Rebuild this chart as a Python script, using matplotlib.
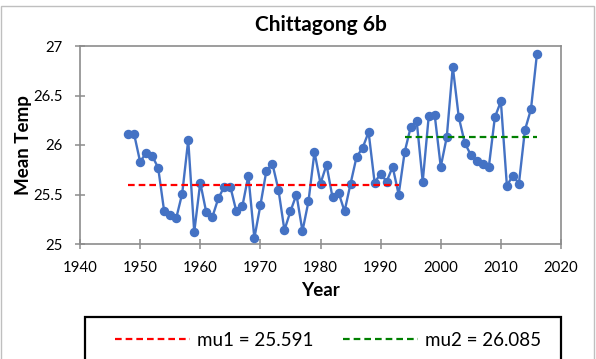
import numpy as np
import matplotlib
matplotlib.use('Agg')
import matplotlib.pyplot as plt
from matplotlib.patches import Rectangle
from matplotlib.lines import Line2D

plt.rcParams['font.family'] = ['Lato', 'DejaVu Sans']

years = list(range(1948, 2017))
temps = [26.11, 26.11, 25.83, 25.92, 25.89, 25.77, 25.33, 25.29, 25.26, 25.51,
         26.05, 25.12, 25.62, 25.32, 25.27, 25.46, 25.58, 25.58, 25.33, 25.38,
         25.69, 25.06, 25.39, 25.74, 25.81, 25.55, 25.14, 25.33, 25.50, 25.13,
         25.43, 25.93, 25.61, 25.80, 25.47, 25.52, 25.33, 25.61, 25.88, 25.97,
         26.13, 25.62, 25.71, 25.63, 25.78, 25.50, 25.93, 26.18, 26.24, 25.63,
         26.29, 26.30, 25.78, 26.08, 26.79, 26.28, 26.02, 25.90, 25.84, 25.81,
         25.78, 26.28, 26.44, 25.59, 25.69, 25.61, 26.15, 26.36, 26.92]

mu1 = 25.591
mu2 = 26.085
seg1 = [1948, 1993]
seg2 = [1994, 2016]

fig = plt.figure(figsize=(5.96, 3.59), dpi=100)
ax = fig.add_axes([80 / 596, 1 - 244 / 359, 481 / 596, 198 / 359])

ax.plot(years, temps, color='#4472C4', lw=1.7, marker='o', ms=5.8, zorder=3)
ax.plot(seg1, [mu1, mu1], color='red', lw=1.6, ls=(0, (3, 1.8)), zorder=4)
ax.plot(seg2, [mu2, mu2], color='green', lw=1.6, ls=(0, (3, 1.8)), zorder=4)

ax.set_xlim(1940, 2020)
ax.set_ylim(25, 27)
ax.set_xticks(range(1940, 2021, 10))
ax.set_yticks([25, 25.5, 26, 26.5, 27])
ax.set_yticklabels(['25', '25.5', '26', '26.5', '27'])
for s in ax.spines.values():
    s.set_color('#8c8c8c')
    s.set_linewidth(1.2)
ax.tick_params(direction='inout', length=7, width=1.1, color='#8c8c8c',
               labelsize=10.8, labelcolor='black')
ax.tick_params(axis='y', pad=9)
ax.tick_params(axis='x', pad=9)

ax.set_title('Chittagong 6b', fontsize=15, fontweight='bold', pad=11)
ax.set_xlabel('Year', fontsize=13.5, fontweight='bold', labelpad=5)
ax.set_ylabel('Mean Temp', fontsize=13.5, fontweight='bold', labelpad=1)

# outer chart border
fig.patches.append(Rectangle((1 / 596, -0.05), 593 / 596, 1 - 6 / 359 + 0.05,
                             transform=fig.transFigure, fill=False,
                             edgecolor='#bfbfbf', lw=1.0))
# legend box
fig.patches.append(Rectangle((85 / 596, -0.05), 476 / 596, 1 - 317 / 359 + 0.05,
                             transform=fig.transFigure, fill=False,
                             edgecolor='black', lw=1.6))

handles = [Line2D([], [], color='red', lw=1.6, ls=(0, (3, 1.8))),
           Line2D([], [], color='green', lw=1.6, ls=(0, (3, 1.8)))]
labels = ['mu1 = %.3f' % mu1, 'mu2 = %.3f' % mu2]
fig.legend(handles, labels, loc='center', bbox_to_anchor=(328 / 596, 1 - 340 / 359),
           ncol=2, frameon=False, fontsize=13.5, handlelength=4.0,
           handletextpad=0.37, columnspacing=1.6)

fig.savefig('out.png', dpi=100)
